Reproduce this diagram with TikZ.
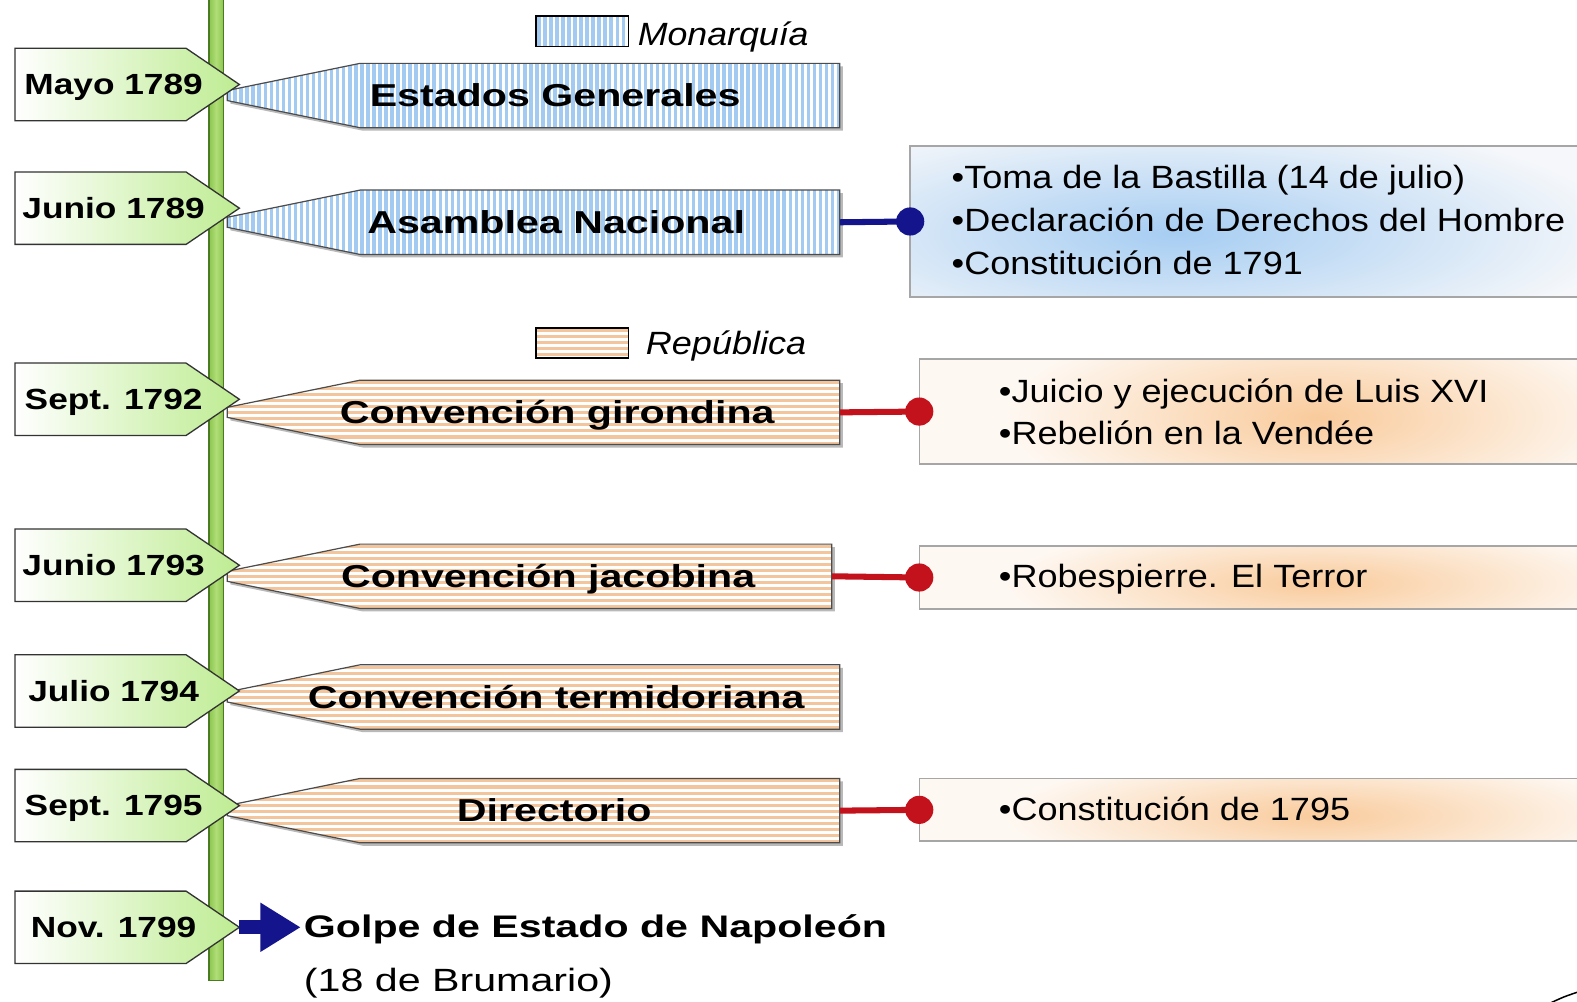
\documentclass[tikz,border=0pt]{standalone}
\usepackage{fontspec}
\setmainfont{Liberation Sans}
\usetikzlibrary{arrows.meta}
\definecolor{monoblue}{HTML}{A3CBF2}
\definecolor{peach}{HTML}{F3C59C}
\definecolor{bargreen}{HTML}{8CC650}
\definecolor{barlight}{HTML}{B0DE78}
\definecolor{bardark}{HTML}{4A7A22}
\definecolor{dategreen}{HTML}{BEEC92}
\definecolor{navyc}{HTML}{14148C}
\definecolor{redc}{HTML}{C4121C}
\definecolor{glowblue}{HTML}{A6CDF2}
\definecolor{glowpeach}{HTML}{F9CB9C}
\definecolor{boxbg}{HTML}{F5F7FA}
\definecolor{peachbg}{HTML}{FEF8F2}
\newcommand\sx[2]{\scalebox{#1}[1]{#2}}
\tikzset{
  datetext/.style={font=\fontsize{29}{34}\selectfont\bfseries, anchor=base, inner sep=0pt},
  bantext/.style={font=\fontsize{31.5}{38}\selectfont\bfseries, anchor=base, inner sep=0pt},
  infotext/.style={font=\fontsize{32}{38}\selectfont, anchor=base west, inner sep=0pt},
  legtext/.style={font=\fontsize{32}{38}\selectfont\itshape, anchor=base west, inner sep=0pt},
  infobox/.style={rectangle, inner sep=0pt, anchor=north west},
  infoborder/.style={draw=gray!70, line width=1.5pt},
  banbox/.style={rectangle, inner sep=0pt, anchor=west, minimum height=64pt},
  bannerline/.style={draw=gray!60!black, line width=1.2pt},
  shadowc/.style={fill=gray!55},
  mlink/.style={navyc, line width=6pt},
  rlink/.style={redc, line width=6pt},
  datebox/.style={left color=white, right color=dategreen, draw=black!80, line width=1.3pt},
}
\begin{document}
\begin{tikzpicture}[x=1pt,y=-1pt]
\useasboundingbox (0,0) rectangle (1568,996);
\clip (0,0) rectangle (1568,996);
\fill[white] (0,0) rectangle (1568,996);

% time bar
\shadedraw[left color=bargreen, right color=bargreen, middle color=barlight, draw=bardark, line width=1.5pt] (208,-5) rectangle (222,975);

% legend
\begin{scope}
  \clip (533,16) rectangle (625,46);
  \fill[white] (533,16) rectangle (625,46);
  \foreach \x in {533,539,...,625} \fill[monoblue] (\x+1,10) rectangle (\x+4.5,50);
\end{scope}
\draw[black, line width=1.3pt] (533,16) rectangle (625,46);
\node[legtext] (legm) at (634,45.5) {\sx{1.11}{Monarquía}};
\begin{scope}
  \clip (533,326) rectangle (625,356);
  \fill[white] (533,326) rectangle (625,356);
  \foreach \k in {0,...,5} \fill[peach] (530,326+\k*6+1) rectangle (630,326+\k*6+4);
\end{scope}
\draw[black, line width=1.3pt] (533,326) rectangle (625,356);
\node[legtext] (legr) at (642,352) {\sx{1.12}{República}};

% monarchy banners
\foreach \i/\y/\rx/\tx/\txt in {1/95/835/552/Estados Generales, 2/221/835/553/Asamblea Nacional} {
  \fill[shadowc] (229,\y-2) -- (361,\y-29) -- (\rx+3,\y-29) -- (\rx+3,\y+35) -- (361,\y+35) -- (229,\y+8) -- cycle;
  \begin{scope}
    \clip (226,\y-5) -- (358,\y-32) -- (\rx,\y-32) -- (\rx,\y+32) -- (358,\y+32) -- (226,\y+5) -- cycle;
    \fill[white] (220,\y-40) rectangle (\rx+5,\y+40);
    \foreach \x in {226,232,...,840} \fill[monoblue] (\x,\y-40) rectangle (\x+3.5,\y+40);
  \end{scope}
  \draw[bannerline] (226,\y-5) -- (358,\y-32) -- (\rx,\y-32) -- (\rx,\y+32) -- (358,\y+32) -- (226,\y+5) -- cycle;
  \node[banbox, minimum width=\rx-358] (b\i) at (358,\y) {};
  \node[bantext] (bt\i) at (\tx,\y+11) {\sx{1.3}{\txt}};
}

% republic banners
\foreach \i/\y/\rx/\tx/\txt in {3/410/835/554/Convención girondina, 4/573/827/545/Convención jacobina, 5/693/835/553/Convención termidoriana, 6/806/835/551/Directorio} {
  \fill[shadowc] (229,\y-2) -- (361,\y-29) -- (\rx+3,\y-29) -- (\rx+3,\y+35) -- (361,\y+35) -- (229,\y+8) -- cycle;
  \begin{scope}
    \clip (226,\y-5) -- (358,\y-32) -- (\rx,\y-32) -- (\rx,\y+32) -- (358,\y+32) -- (226,\y+5) -- cycle;
    \fill[white] (220,\y-40) rectangle (\rx+5,\y+40);
    \foreach \k in {0,...,11} \fill[peach] (220,\y-32+\k*6+1) rectangle (\rx+5,\y-32+\k*6+4);
  \end{scope}
  \draw[bannerline] (226,\y-5) -- (358,\y-32) -- (\rx,\y-32) -- (\rx,\y+32) -- (358,\y+32) -- (226,\y+5) -- cycle;
  \node[banbox, minimum width=\rx-358] (b\i) at (358,\y) {};
  \node[bantext] (bt\i) at (\tx,\y+11) {\sx{1.3}{\txt}};
}

% date boxes
\foreach \i/\y/\d in {1/84/Mayo 1789, 2/207/Junio 1789, 3/397/Sept. 1792, 4/562/Junio 1793, 5/687/Julio 1794, 6/801/Sept. 1795, 7/922/Nov. 1799} {
  \shadedraw[datebox] (15,\y-36) -- (185,\y-36) -- (238,\y) -- (185,\y+36) -- (15,\y+36) -- cycle;
  \node[datetext] (d\i) at (113,\y+10) {\sx{1.21}{\d}};
  \coordinate (tip\i) at (238,\y);
}

% info box 1 (blue)
\node[infobox, fill=boxbg, minimum width=700pt, minimum height=150pt] (i1) at (905,145) {};
\begin{scope}
  \clip (i1.north west) rectangle (i1.south east);
  \shade[inner color=glowblue, outer color=boxbg] (1170,232) ellipse (440 and 120);
\end{scope}
\draw[infoborder] (i1.north west) rectangle (i1.south east);
\node[infotext] (i1a) at (946,187) {\sx{1.12}{•Toma de la Bastilla (14 de julio)}};
\node[infotext] (i1b) at (946,230) {\sx{1.12}{•Declaración de Derechos del Hombre}};
\node[infotext] (i1c) at (946,273) {\sx{1.12}{•Constitución de 1791}};

% peach info boxes
\foreach \i/\top/\h in {2/357/104, 3/543/62, 4/774/62} {
  \node[infobox, fill=peachbg, minimum width=700pt, minimum height=\h] (i\i) at (914,\top) {};
  \begin{scope}
    \clip (i\i.north west) rectangle (i\i.south east);
    \shade[inner color=glowpeach, outer color=peachbg] (1310,\top+\h/2+6) ellipse (310 and \h);
  \end{scope}
  \draw[infoborder] (i\i.north west) rectangle (i\i.south east);
}
\node[infotext] (i2a) at (993,400) {\sx{1.12}{•Juicio y ejecución de Luis XVI}};
\node[infotext] (i2b) at (993,442) {\sx{1.12}{•Rebelión en la Vendée}};
\node[infotext] (i3a) at (993,584) {\sx{1.12}{•Robespierre. El Terror}};
\node[infotext] (i4a) at (993,816) {\sx{1.12}{•Constitución de 1795}};

% connectors
\draw[mlink] (b2.east) -- (i1.west);
\fill[navyc] (i1.west) circle (14);
\draw[rlink] (b3.east) -- (i2.west);
\fill[redc] (i2.west) circle (14);
\draw[rlink] (b4.east) -- (i3.west);
\fill[redc] (i3.west) circle (14);
\draw[rlink] (b6.east) -- (i4.west);
\fill[redc] (i4.west) circle (14);

% Napoleon
\node[anchor=base west, inner sep=0pt, font=\fontsize{31}{36}\selectfont\bfseries] (nap) at (302,932) {\sx{1.32}{Golpe de Estado de Napoleón}};
\node[anchor=base west, inner sep=0pt, font=\fontsize{32}{36}\selectfont] (brum) at (302,986) {\sx{1.28}{(18 de Brumario)}};
\draw[navyc, line width=14pt, -{Triangle[length=40pt,width=46pt]}] (tip7) -- ([xshift=-3pt]nap.west |- tip7);

% corner mark
\draw[black, line width=1.5pt] (1540,998) .. controls (1555,991) .. (1570,986);
\end{tikzpicture}
\end{document}
